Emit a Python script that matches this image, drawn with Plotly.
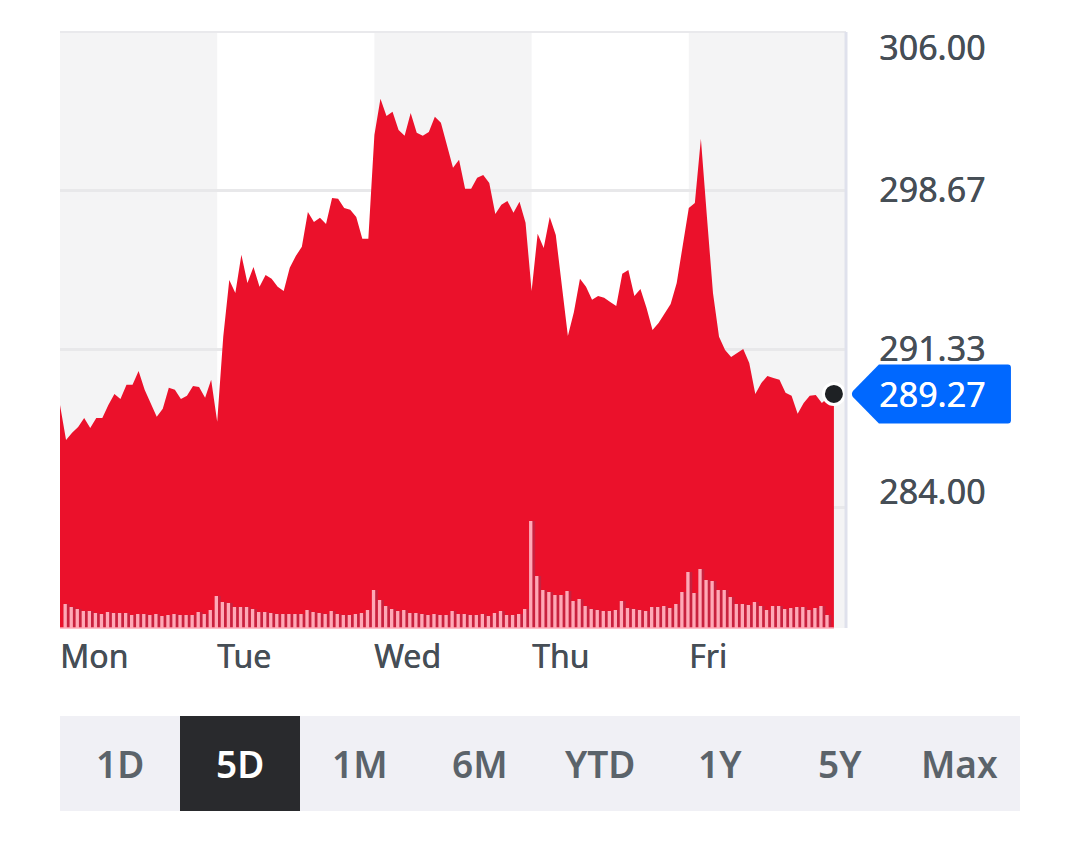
import plotly.graph_objects as go

# closing prices, five sessions, 26 readings a day
mon = [288.76, 287.14, 287.47, 287.74, 288.16, 287.70, 288.16, 288.16, 288.76, 289.27,
       289.04, 289.69, 289.69, 290.33, 289.46, 288.85, 288.21, 288.58, 289.55, 289.46,
       289.04, 289.18, 289.64, 289.59, 289.09, 289.92]
tue = [287.98, 291.91, 294.54, 293.94, 295.70, 294.40, 295.14, 294.22, 294.77, 294.59,
       294.22, 294.03, 295.10, 295.65, 296.07, 297.68, 297.22, 297.41, 297.13, 298.33,
       298.29, 297.87, 297.78, 297.45, 296.44, 296.44]
wed = [301.24, 302.91, 302.12, 302.31, 301.47, 301.20, 302.26, 301.34, 301.20, 301.38,
       302.08, 301.80, 300.78, 299.72, 300.09, 298.75, 298.75, 299.26, 299.39, 299.02,
       297.59, 298.01, 298.19, 297.64, 298.15, 297.18]
thu = [294.03, 296.67, 296.02, 297.45, 296.62, 294.22, 291.95, 293.06, 294.59, 294.22,
       293.62, 293.80, 293.71, 293.52, 293.34, 294.82, 295.00, 293.80, 294.12, 293.25,
       292.23, 292.55, 293.01, 293.43, 294.40, 296.07]
fri = [297.87, 298.10, 301.06, 297.45, 293.94, 291.91, 291.30, 290.98, 291.17, 291.35,
       290.70, 289.27, 289.78, 290.10, 290.01, 289.92, 289.32, 289.18, 288.35, 288.85,
       289.18, 289.22, 288.85, 289.09, 289.27]
prices = mon + tue + wed + thu + fri

# volume, first reading of Monday falls outside the plot
volume = [24, 21, 19, 17, 17, 15, 14, 16, 15, 15, 15, 13, 14, 14, 13, 14, 12, 13, 14, 13,
          13, 13, 16, 14, 18, 32, 26, 25, 21, 21, 21, 19, 16, 16, 15, 14, 14, 14, 14, 14,
          18, 16, 15, 14, 17, 14, 13, 13, 14, 15, 18, 38, 28, 22, 19, 17, 18, 15, 15, 14,
          13, 14, 13, 13,
          17, 14, 14, 13, 13, 14, 12, 15, 17, 13, 13, 14, 19, 107, 52, 38, 36, 33, 33, 37,
          27, 29, 22, 19, 18, 17, 17, 18, 27, 20, 19, 18, 17, 21, 21, 22, 20, 24, 36, 56,
          35, 59, 48, 47, 38, 38, 31, 24, 24, 23, 26, 22, 18, 22, 22, 19, 20, 21, 21, 18,
          20, 22, 13]

days = ['Mon', 'Tue', 'Wed', 'Thu', 'Fri']
day_starts = [0, 26, 52, 78, 104]
y_ticks = [284.00, 291.33, 298.67, 306.00]
last_price = prices[-1]
ranges = ['1D', '5D', '1M', '6M', 'YTD', '1Y', '5Y', 'Max']

RED = '#eb112b'
FONT = 'Noto Sans'
LABEL = '#464e56'
X_END = 130.0

W, H = 1080, 849
L, R, T, B = 60, 846, 32, 628


def px(x):
    return (x - L) / (R - L)


def py(y):
    return (B - y) / (B - T)


def medium(color, size):
    # no medium cut of the font here, a thin shadow thickens the regular one
    return dict(family=FONT, size=size, color=color, shadow=f'0.5px 0 0 {color}')


x = list(range(len(prices)))
x_vol = list(range(1, len(volume) + 1))

fig = go.Figure()

fig.add_trace(go.Scatter(x=x, y=prices, mode='lines', line=dict(width=0, color=RED),
                         fill='tozeroy', fillcolor=RED, hoverinfo='skip'))
fig.add_trace(go.Bar(x=x_vol, y=volume, yaxis='y2', width=1.0, offset=-0.42,
                     marker=dict(color='#c8213e', line_width=0), hoverinfo='skip'))
fig.add_trace(go.Bar(x=x_vol, y=volume, yaxis='y2', width=0.55, offset=-0.42,
                     marker=dict(color='#ffa8b6', line_width=0), hoverinfo='skip'))
fig.add_trace(go.Scatter(x=[x[-1]], y=[last_price], mode='markers', cliponaxis=False,
                         marker=dict(size=21, color='#1e2124', line=dict(color='white', width=3)),
                         hoverinfo='skip'))

shapes = []
# alternating day bands
for start in day_starts[::2]:
    shapes.append(dict(type='rect', layer='below', xref='x', yref='paper',
                       x0=start, x1=start + 26 if start < 104 else X_END, y0=0, y1=1,
                       fillcolor='#f4f4f5', line_width=0))
# top edge and right axis
shapes.append(dict(type='line', layer='below', xref='paper', yref='paper',
                   x0=0, x1=1, y0=1, y1=1, line=dict(color='#e9e9ec', width=2)))
shapes.append(dict(type='line', layer='above', xref='paper', yref='paper',
                   x0=1, x1=1, y0=0, y1=1, line=dict(color='#dfe1ec', width=3)))
# baseline
shapes.append(dict(type='line', layer='above', xref='x', yref='paper',
                   x0=0, x1=x[-1], y0=0, y1=0, line=dict(color='#ffa8b6', width=1.5)))
# price flag, sized in pixels off the last point; paper xref so it is not clipped
shapes.append(dict(type='path', layer='above', xref='paper', yref='y', xsizemode='pixel', ysizemode='pixel',
                   xanchor=x[-1] / X_END, yanchor=last_price,
                   path='M 19 3 Q 17 0 19 -3 L 45 -29.5 L 174 -29.5 Q 177 -29.5 177 -26.5 '
                        'L 177 26.5 Q 177 29.5 174 29.5 L 45 29.5 Z',
                   fillcolor='#0068ff', line_width=0))
# range selector
shapes.append(dict(type='rect', layer='above', xref='paper', yref='paper',
                   x0=px(60), x1=px(1020), y0=py(811), y1=py(716), fillcolor='#f0f0f5', line_width=0))
shapes.append(dict(type='rect', layer='above', xref='paper', yref='paper',
                   x0=px(180), x1=px(300), y0=py(811), y1=py(716), fillcolor='#292a2d', line_width=0))

annotations = []
for value, shift in zip(y_ticks, [17, 1, 2, -15]):
    annotations.append(dict(text=f'{value:.2f}', xref='paper', yref='y', x=px(877), y=value, yshift=shift,
                            xanchor='left', yanchor='middle', showarrow=False,
                            font=medium(LABEL, 34)))
annotations.append(dict(text=f'{last_price:.2f}', xref='paper', yref='y', x=px(877), y=last_price,
                        xanchor='left', yanchor='middle', showarrow=False,
                        font=medium('#ffffff', 34)))
for day, start in zip(days, day_starts):
    annotations.append(dict(text=day, xref='x', yref='paper', x=start, xshift=-2, y=py(655),
                            xanchor='left', yanchor='middle', showarrow=False,
                            font=medium(LABEL, 32)))
for i, label in enumerate(ranges):
    annotations.append(dict(text=label, xref='paper', yref='paper', x=px(120 + 120 * i), y=py(764),
                            xanchor='center', yanchor='middle', showarrow=False,
                            font=dict(family=FONT, size=37, weight=600,
                                      color='white' if label == '5D' else '#5b636a')))

fig.update_layout(
    width=W, height=H,
    margin=dict(l=L, r=W - R, t=T, b=H - B, pad=0),
    paper_bgcolor='white', plot_bgcolor='rgba(0,0,0,0)',
    showlegend=False, barmode='overlay',
    shapes=shapes, annotations=annotations,
    xaxis=dict(range=[0, X_END], showgrid=False, zeroline=False, showticklabels=False, ticks=''),
    yaxis=dict(range=[278.45, 306], tickvals=y_ticks, showticklabels=False, ticks='',
               showgrid=True, gridcolor='#e8e8ea', gridwidth=3, zeroline=False),
    yaxis2=dict(range=[0, 596], overlaying='y', side='right', showgrid=False, zeroline=False,
                showticklabels=False, ticks=''),
)

fig.write_html('out.html', config=dict(displayModeBar=False),
               post_script="document.body.style.margin='0';")
